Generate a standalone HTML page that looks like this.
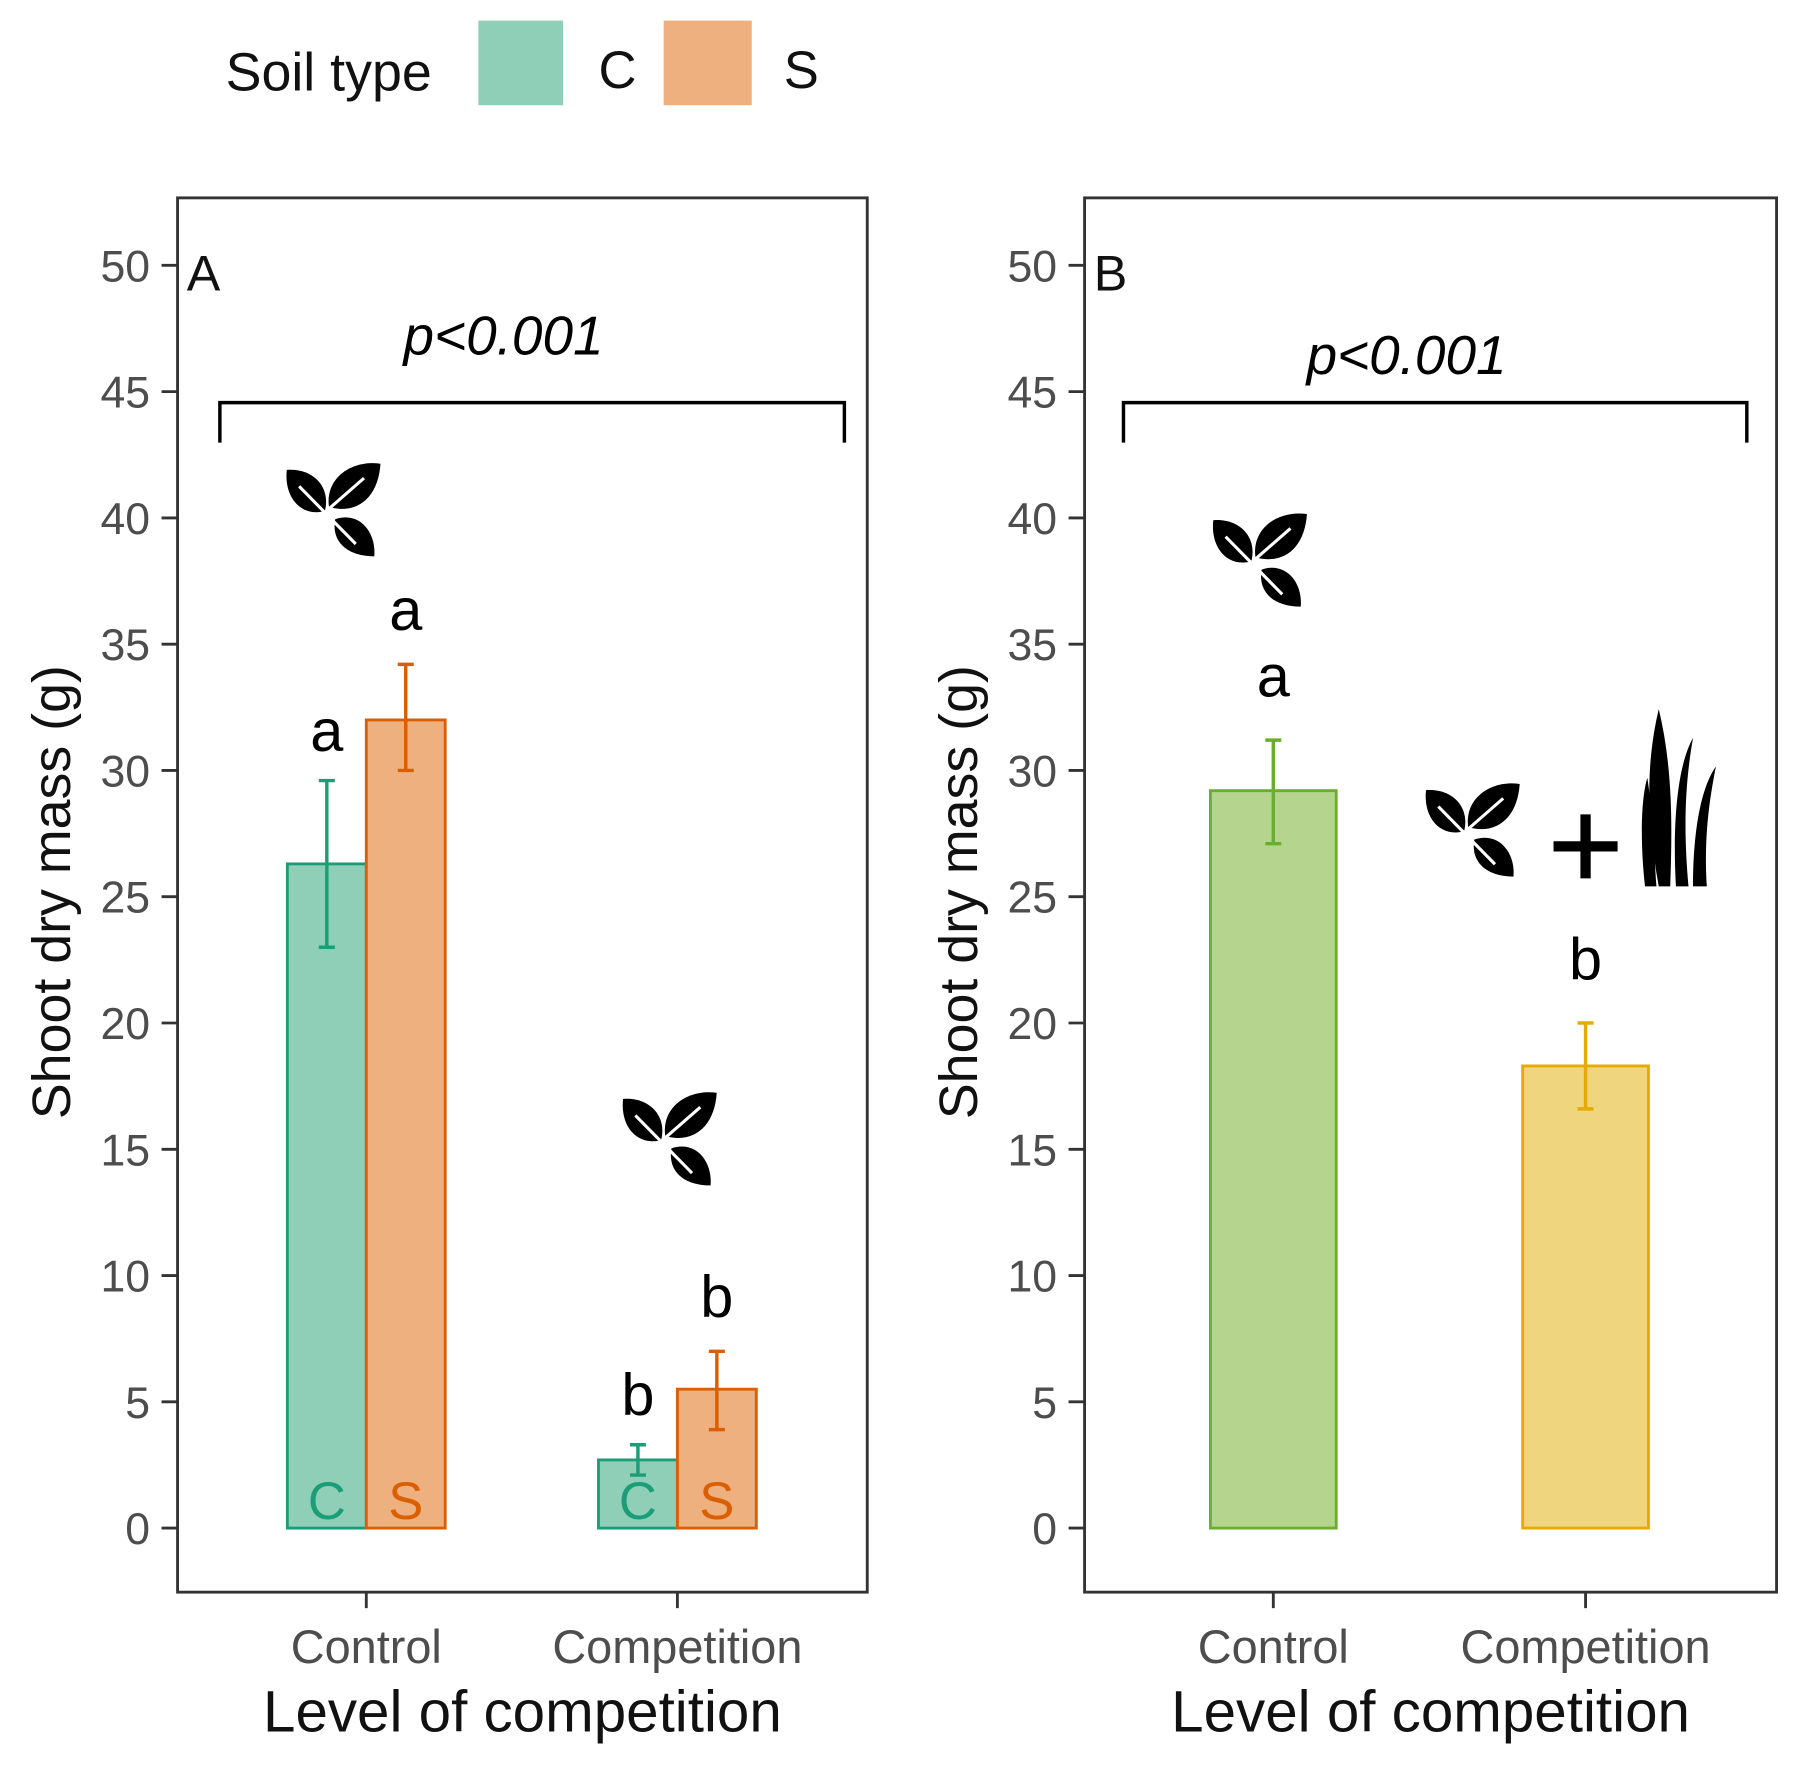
<!DOCTYPE html>
<html><head><meta charset="utf-8"><style>
html,body{margin:0;padding:0;background:#fff;}
svg{display:block;font-family:"Liberation Sans",sans-serif;}
</style></head><body>
<svg id="chart" width="1794" height="1766" viewBox="0 0 1568 1544" xmlns="http://www.w3.org/2000/svg">
<defs>
<symbol id="leaf" viewBox="-50 -50 100 100">
<path d="M-8,2 C-30,8 -48,-10 -45,-38 C-20,-40 -2,-22 -8,2 Z" fill="#000"/>
<path d="M-4,-2 C-8,-30 18,-48 46,-44 C44,-12 24,6 -4,-2 Z" fill="#000"/>
<path d="M2,10 C25,2 42,22 40,46 C14,46 -2,32 2,10 Z" fill="#000"/>
<path d="M-33,-22 L22,34 M-10,5 L30,-30" stroke="#fff" stroke-width="3" fill="none"/>
</symbol>
</defs>
<g>
<text x="197" y="79" font-size="47" fill="#111">Soil type</text>
<rect x="418" y="18" width="74" height="74" fill="#8fcfb8"/>
<text x="523" y="77" font-size="46" fill="#111">C</text>
<rect x="580" y="18" width="77" height="74" fill="#efb07f"/>
<text x="685" y="77" font-size="46" fill="#111">S</text>
</g>
<g id="panels"></g>
<g>
<use href="#leaf" x="246" y="400" width="90" height="90"/>
<use href="#leaf" x="540" y="950" width="90" height="90"/>
<use href="#leaf" x="1056" y="444" width="90" height="90"/>
<use href="#leaf" x="1242" y="680" width="90" height="90"/>
<path d="M1358,740 H1414 M1386,712 V768" stroke="#000" stroke-width="9"/>
<g fill="#000">
<path d="M1450,775 C1440,720 1438,670 1450,620 C1462,670 1462,720 1460,775 Z"/>
<path d="M1465,775 C1462,720 1466,670 1480,645 C1472,690 1472,730 1476,775 Z"/>
<path d="M1480,775 C1480,730 1486,690 1500,670 C1492,710 1490,740 1492,775 Z"/>
<path d="M1438,775 C1434,740 1434,700 1440,680 C1446,720 1446,750 1448,775 Z"/>
</g>
</g>
</svg>
<script>
const yTicks=[0,5,10,15,20,25,30,35,40,45,50];
const catsA=["Control","Competition"];
const soilA=["C","S"];
const valsA_C=[26.3,2.7];
const valsA_S=[32.0,5.5];
const errLoA_C=[23.0,2.1];
const errHiA_C=[29.6,3.3];
const errLoA_S=[30.0,3.9];
const errHiA_S=[34.2,7.0];
const lettersA_C=["a","b"];
const lettersA_S=["a","b"];
const catsB=["Control","Competition"];
const valsB=[29.2,18.3];
const errLoB=[27.1,16.6];
const errHiB=[31.2,20.0];
const lettersB=["a","b"];
const NS="http://www.w3.org/2000/svg";
const root=document.getElementById('panels');
function el(tag,attrs,parent,text){const e=document.createElementNS(NS,tag);for(const k in attrs)e.setAttribute(k,attrs[k]);if(text!==undefined)e.textContent=text;(parent||root).appendChild(e);return e;}
const Y0=1336,Y50=232;
function y(v){return Y0+(Y50-Y0)*v/50;}
function panel(x0,x1,label,cx,pname,bx1,bx2,py){
  const g=el('g',{});
  
  
  const fr=el('rect',{x:x0,y:173,width:x1-x0,height:1219,fill:'none',stroke:'#333','stroke-width':2.5},g);
  
  
  yTicks.forEach(t=>{
    el('line',{x1:x0-14,x2:x0,y1:y(t),y2:y(t),stroke:'#333','stroke-width':2.5},g);
    const tx=el('text',{x:x0-24,y:y(t)+14,'font-size':39,fill:'#4d4d4d','text-anchor':'end'},g,String(t));
    
    
  });
  cx.forEach((c,i)=>{
    el('line',{x1:c.x,x2:c.x,y1:1392,y2:1406,stroke:'#333','stroke-width':2.5},g);
    const tx=el('text',{x:c.x,y:1454,'font-size':41,fill:'#4d4d4d','text-anchor':'middle'},g,c.name);
    
    
  });
  const xt=el('text',{x:(x0+x1)/2,y:1514,'font-size':51,fill:'#111','text-anchor':'middle'},g,'Level of competition');
  
  
  const yt=el('text',{x:0,y:0,'font-size':47,fill:'#111','text-anchor':'middle',transform:`translate(${x0-94},780) rotate(-90)`},g,'Shoot dry mass (g)');
  
  
  const pl=el('text',{x:x0+8,y:254,'font-size':44,fill:'#111'},g,label);
  
  
  const br=el('path',{d:`M${bx1},387 V352 H${bx2} V387`,fill:'none',stroke:'#000','stroke-width':3},g);
  
  
  const pv=el('text',{x:(bx1+bx2)/2-25,y:py,'font-size':48,'font-style':'italic',fill:'#000','text-anchor':'middle'},g,'p<0.001');
  
  
  return g;
}
function bar(g,xl,w,v,lo,hi,fill,stroke,name,letter,inner,lift){
  const r=el('rect',{x:xl,y:y(v),width:w,height:y(0)-y(v),fill:fill,stroke:stroke,'stroke-width':2.5},g);
  
  
  const c=xl+w/2;
  const eb=el('path',{d:`M${c},${y(lo)} V${y(hi)} M${c-7},${y(lo)} H${c+7} M${c-7},${y(hi)} H${c+7}`,stroke:stroke,'stroke-width':3,fill:'none'},g);
  
  
  const lt=el('text',{x:c,y:y(hi)-lift,'font-size':52,fill:'#000','text-anchor':'middle'},g,letter);
  
  
  if(inner){
    const it=el('text',{x:c,y:1328,'font-size':46,fill:stroke,'text-anchor':'middle'},g,inner);
    
    
  }
}
const xA=[320,592];
const gA=panel(155,758,'A',catsA.map((n,i)=>({name:n,x:xA[i]})),'a',192,738,310);
const wA=69;
catsA.forEach((c,i)=>{
  bar(gA,xA[i]-wA,wA,valsA_C[i],errLoA_C[i],errHiA_C[i],'#8fcfb8','#1b9e77','bar-'+c.toLowerCase()+'-c',lettersA_C[i],soilA[0],26);
  bar(gA,xA[i],wA,valsA_S[i],errLoA_S[i],errHiA_S[i],'#efb07f','#d95f02','bar-'+c.toLowerCase()+'-s',lettersA_S[i],soilA[1],30);
});
const xB=[1113,1386];
const gB=panel(948,1553,'B',catsB.map((n,i)=>({name:n,x:xB[i]})),'b',982,1527,327);
const fillsB=['#b5d48e','#f0d57f'],strokesB=['#6aae2f','#e6ab02'];
catsB.forEach((c,i)=>{
  bar(gB,xB[i]-55,110,valsB[i],errLoB[i],errHiB[i],fillsB[i],strokesB[i],'bar-'+c.toLowerCase(),lettersB[i],null,38);
});
</script>
</body></html>
